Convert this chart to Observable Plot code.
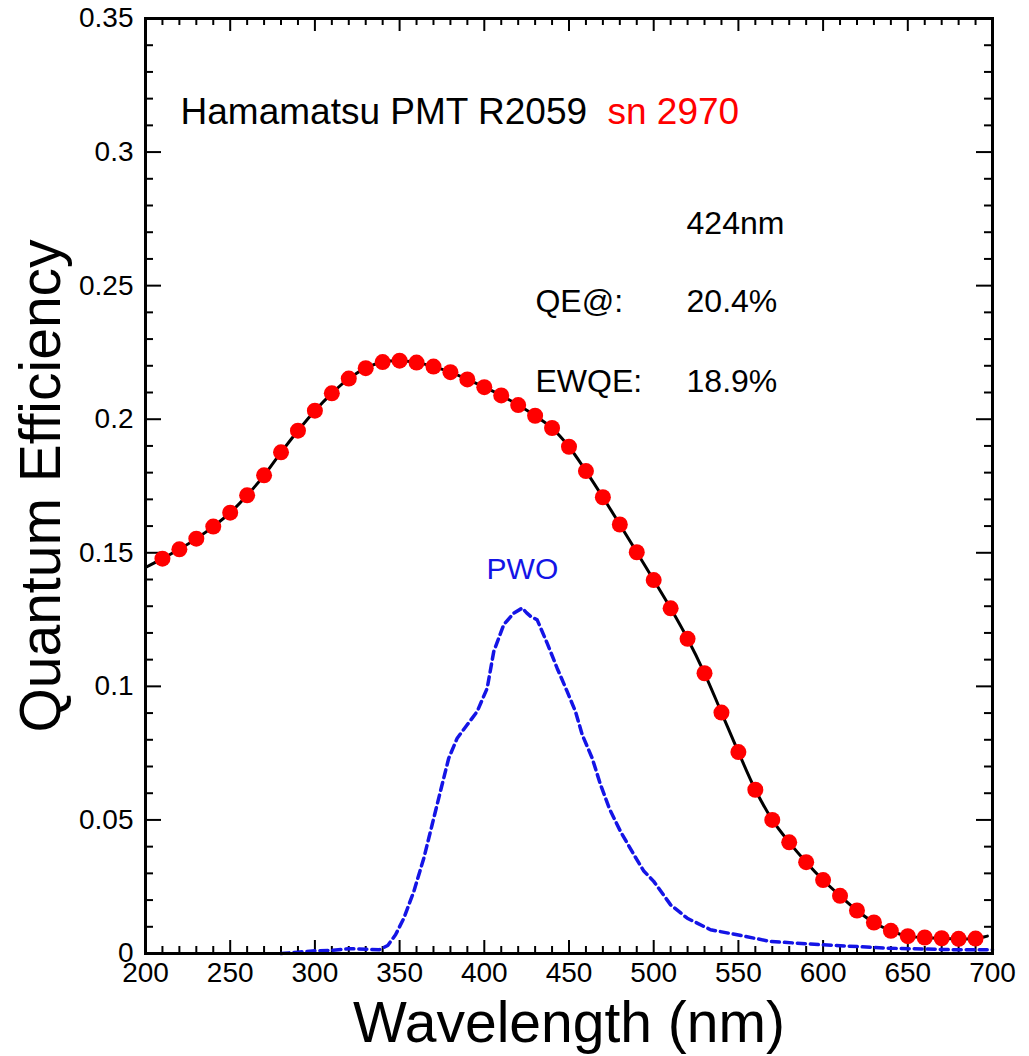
<!DOCTYPE html>
<html>
<head>
<meta charset="utf-8">
<script src="https://cdn.jsdelivr.net/npm/d3@7"></script>
<script src="https://cdn.jsdelivr.net/npm/@observablehq/plot@0.6"></script>
<style>
  html, body { margin: 0; padding: 0; background: #fff; }
  #chart { width: 1029px; height: 1056px; }
</style>
</head>
<body>
<div id="chart"></div>
<script>
// Measured QE points (red dots)
const qeWavelength = [210,220,230,240,250,260,270,280,290,300,310,320,330,340,350,360,370,380,390,400,
  410,420,430,440,450,460,470,480,490,500,510,520,530,540,550,560,570,580,590,600,
  610,620,630,640,650,660,670,680,690];
const qeValue = [0.1478,0.1513,0.1553,0.1598,0.1650,0.1715,0.1790,0.1876,0.1957,0.2032,
  0.2097,0.2152,0.2191,0.2214,0.2219,0.2212,0.2197,0.2176,0.2149,0.2120,
  0.2089,0.2053,0.2013,0.1967,0.1897,0.1806,0.1708,0.1606,0.1502,0.1398,
  0.1292,0.1178,0.1049,0.0902,0.0754,0.0613,0.0500,0.0416,0.0342,0.0275,
  0.0216,0.0161,0.0116,0.0085,0.0065,0.0060,0.0057,0.0055,0.0056];
// Fit curve end points (black line extends beyond the dots)
const fitStart = [200, 0.1445];
const fitEnd = [697, 0.0065];

// PWO emission spectrum (blue dashed)
const pwoWavelength = [280,290,300,310,320,330,338,343,347.6,352.5,358.4,364.3,369.2,374.1,379,384,389.9,395.8,
  401.7,405.6,411.5,417.4,422.4,425,427.3,431.2,437.1,443,448.9,453.8,457.8,463.7,468.6,474,480.4,488.3,
  494,500,510,519.8,533.5,549.3,569,598.5,637.8,677.2,700];
const pwoValue = [0.0000,0.0005,0.0010,0.0012,0.0018,0.0016,0.0014,0.0030,0.0070,0.0132,0.0232,0.0357,0.0482,0.0607,
  0.0731,0.0806,0.0856,0.0906,0.0993,0.1131,0.1231,0.1274,0.1293,0.1275,0.1262,0.1249,0.1162,0.1068,0.0981,
  0.0906,0.0819,0.0731,0.0632,0.0540,0.0457,0.0370,0.0310,0.0270,0.0182,0.0132,0.0089,0.0070,0.0045,0.0033,
  0.0020,0.0014,0.0014];

// Axis ticks
const xMajorTicks = [200,250,300,350,400,450,500,550,600,650,700];
const xTickLabels = ["200","250","300","350","400","450","500","550","600","650","700"];
const xMinorTicks = d3.range(200, 701, 10).filter(d => d % 50 !== 0);
const yMajorTicks = [0,0.05,0.1,0.15,0.2,0.25,0.3,0.35];
const yTickLabels = ["0","0.05","0.1","0.15","0.2","0.25","0.3","0.35"];
const yMinorTicks = d3.range(0, 36, 1).filter(d => d % 5 !== 0).map(d => d / 100);

// Annotations (anchored in data coordinates)
const titleText = ["Hamamatsu PMT R2059", "sn 2970"];
const titleX = [220.7, 472.7];
const titleY = [0.3149, 0.3149];
const titleColor = ["black", "#ff0000"];
const annoText = ["424nm", "QE@:", "20.4%", "EWQE:", "18.9%"];
const annoX =    [519.4, 430.2, 519.4, 430.2, 519.4];
const annoY =    [0.2733, 0.2441, 0.2441, 0.2142, 0.2142];
const pwoLabel = {text: "PWO", x: 422.5, y: 0.1438};

const points = qeWavelength.map((w, i) => ({w, v: qeValue[i]}));
const fit = [{w: fitStart[0], v: fitStart[1]}, ...points, {w: fitEnd[0], v: fitEnd[1]}];
const pwo = pwoWavelength.map((w, i) => ({w, v: pwoValue[i]}));
const titles = titleText.map((t, i) => ({t, x: titleX[i], y: titleY[i], c: titleColor[i]}));
const annos = annoText.map((t, i) => ({t, x: annoX[i], y: annoY[i]}));
const xTicksData = xMajorTicks.map((v, i) => ({v, label: xTickLabels[i]}));
const yTicksData = yMajorTicks.map((v, i) => ({v, label: yTickLabels[i]}));

const W = 1029, H = 1056;
const mL = 145, mR = 37, mT = 18, mB = 103;
const pw = W - mL - mR, ph = H - mT - mB;

const chart = Plot.plot({
  width: W, height: H,
  marginLeft: mL, marginRight: mR, marginTop: mT, marginBottom: mB,
  style: {fontFamily: "'Liberation Sans', Arial, sans-serif", background: "white", color: "black"},
  x: {domain: [200, 700], axis: null},
  y: {domain: [0, 0.35], axis: null},
  marks: [
    // ticks inward on all four sides
    Plot.ruleX(xMajorTicks, {x: d => d, insetTop: ph - 13, strokeWidth: 2}),
    Plot.ruleX(xMajorTicks, {x: d => d, insetBottom: ph - 13, strokeWidth: 2}),
    Plot.ruleX(xMinorTicks, {x: d => d, insetTop: ph - 7, strokeWidth: 2}),
    Plot.ruleX(xMinorTicks, {x: d => d, insetBottom: ph - 7, strokeWidth: 2}),
    Plot.ruleY(yMajorTicks, {y: d => d, insetRight: pw - 16, strokeWidth: 2}),
    Plot.ruleY(yMajorTicks, {y: d => d, insetLeft: pw - 16, strokeWidth: 2}),
    Plot.ruleY(yMinorTicks, {y: d => d, insetRight: pw - 8, strokeWidth: 2}),
    Plot.ruleY(yMinorTicks, {y: d => d, insetLeft: pw - 8, strokeWidth: 2}),
    // tick labels
    Plot.text(xTicksData, {x: "v", text: "label", frameAnchor: "bottom", dy: 20, fontSize: 28, textAnchor: "middle", lineAnchor: "middle"}),
    Plot.text(yTicksData, {y: "v", text: "label", frameAnchor: "left", dx: -12, fontSize: 28, textAnchor: "end", lineAnchor: "middle"}),
    // PWO emission
    Plot.line(pwo, {x: "w", y: "v", stroke: "#1414e6", strokeWidth: 3.5, strokeDasharray: "8,5"}),
    // fit line
    Plot.line(fit, {x: "w", y: "v", stroke: "black", strokeWidth: 3, curve: "catmull-rom"}),
    // QE dots
    Plot.dot(points, {x: "w", y: "v", r: 8, fill: "#ff0000", stroke: "none"}),
    // annotations
    Plot.text(titles, {x: "x", y: "y", text: "t", fill: "c", fontSize: 37, textAnchor: "start", lineAnchor: "middle"}),
    Plot.text(annos, {x: "x", y: "y", text: "t", fill: "black", fontSize: 32, textAnchor: "start", lineAnchor: "middle"}),
    Plot.text([pwoLabel], {x: "x", y: "y", text: "text", fill: "#1414e6", fontSize: 30, textAnchor: "middle", lineAnchor: "middle"}),
    // axis titles
    Plot.text(["Wavelength (nm)"], {frameAnchor: "bottom", dy: 70, fontSize: 57, textAnchor: "middle", lineAnchor: "middle"}),
    Plot.text(["Quantum Efficiency"], {frameAnchor: "left", dx: -104, rotate: -90, fontSize: 57, textAnchor: "middle", lineAnchor: "middle"}),
    Plot.frame({stroke: "black", strokeWidth: 3})
  ]
});
document.getElementById("chart").appendChild(chart);
</script>
</body>
</html>
